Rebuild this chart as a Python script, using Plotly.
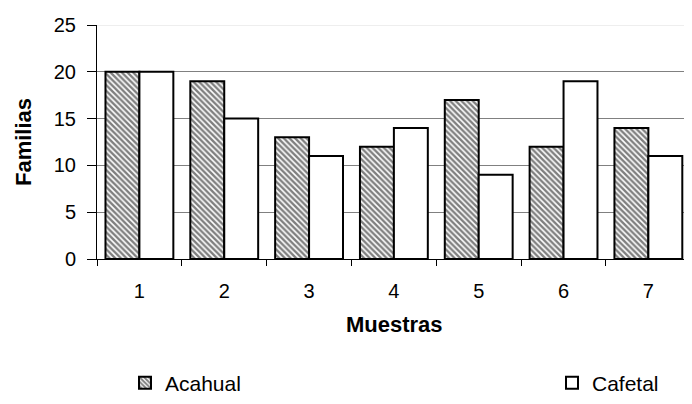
import plotly.graph_objects as go

muestras = ["1", "2", "3", "4", "5", "6", "7"]
acahual = [20, 19, 13, 12, 17, 12, 14]
cafetal = [20, 15, 11, 14, 9, 19, 11]

FONT = "Liberation Sans, Arial, sans-serif"

fig = go.Figure()
fig.add_bar(
    x=muestras, y=acahual, name="Acahual", legend="legend",
    marker=dict(color="white", line=dict(color="black", width=2),
                pattern=dict(shape="\\", fgcolor="black", bgcolor="white",
                             size=4, solidity=0.6)),
)
fig.add_bar(
    x=muestras, y=cafetal, name="Cafetal", legend="legend2",
    marker=dict(color="white", line=dict(color="black", width=2)),
)

fig.add_shape(type="line", xref="paper", yref="y", x0=0, x1=1, y0=25, y1=25,
              line=dict(color="#dddddd", width=1), layer="between")

# axis titles as annotations, placed relative to the plot area's left/bottom
fig.add_annotation(text="<b>Familias</b>", xref="paper", yref="paper", x=0, y=0.5,
                   xanchor="center", yanchor="middle", xshift=-74, textangle=-90,
                   showarrow=False, font=dict(size=22))
fig.add_annotation(text="<b>Muestras</b>", xref="paper", yref="paper", x=0, y=0,
                   xanchor="center", yanchor="middle", xshift=297, yshift=-65,
                   showarrow=False, font=dict(size=22))

# the page has an 8px body margin; keep the figure inside the visible window
fig.update_layout(
    width=676, height=388,
    margin=dict(l=89, r=0, t=17, b=137, autoexpand=False),
    showlegend=True,
    paper_bgcolor="white", plot_bgcolor="white",
    font=dict(family=FONT, size=20, color="black"),
    barmode="group", bargap=0.2, bargroupgap=0,
    xaxis=dict(
        type="category", range=[-0.5, 6.42],
        showline=True, linecolor="black", linewidth=1,
        ticks="outside", tickson="boundaries", ticklen=6, tickcolor="black",
        showgrid=False, ticklabelstandoff=14, automargin=False,
    ),
    yaxis=dict(
        range=[0, 25], dtick=5,
        showline=True, linecolor="black", linewidth=1,
        ticks="outside", ticklen=9, tickcolor="black",
        showgrid=True, gridcolor="#808080", gridwidth=1,
        zeroline=False, ticklabelstandoff=7, automargin=False,
    ),
    legend=dict(xref="container", yref="container", x=117 / 676, y=1 - 375 / 388,
                xanchor="left", yanchor="middle", font=dict(size=21),
                bgcolor="rgba(0,0,0,0)"),
    legend2=dict(xref="container", yref="container", x=544 / 676, y=1 - 375 / 388,
                 xanchor="left", yanchor="middle", font=dict(size=21),
                 bgcolor="rgba(0,0,0,0)"),
)

fig.write_html("out.html")
